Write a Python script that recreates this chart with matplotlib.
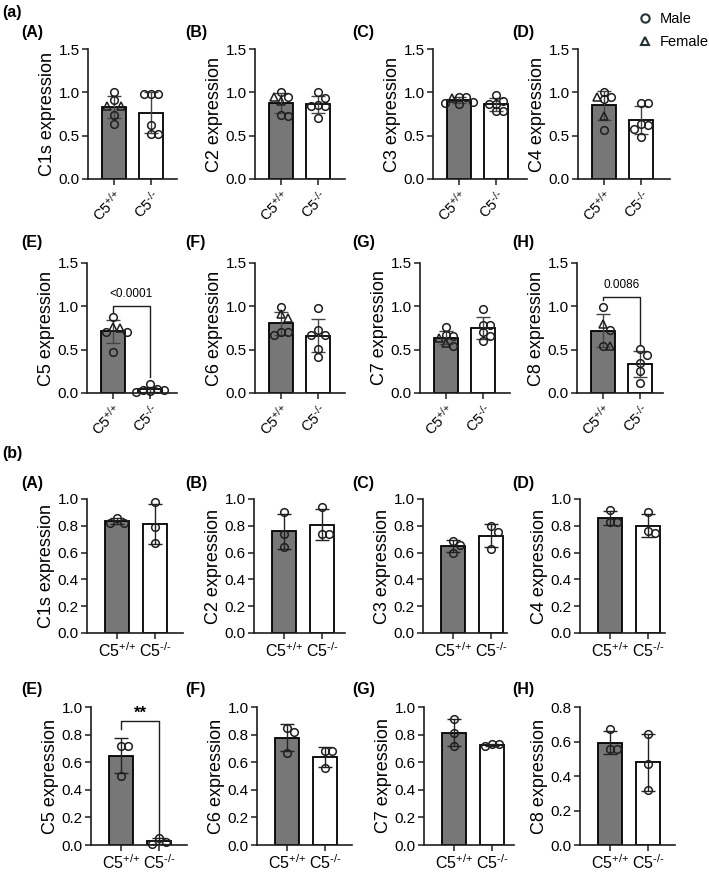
import numpy as np
import matplotlib.pyplot as plt
from matplotlib.lines import Line2D

plt.rcParams['font.family'] = ['Liberation Sans', 'DejaVu Sans']
plt.rcParams['mathtext.fontset'] = 'custom'
plt.rcParams['mathtext.rm'] = 'Liberation Sans'
plt.rcParams['mathtext.it'] = 'Liberation Sans:italic'
plt.rcParams['mathtext.bf'] = 'Liberation Sans:bold'

# Datos
genes = ['C1s', 'C2', 'C3', 'C4', 'C5', 'C6', 'C7', 'C8']
letras = ['(A)', '(B)', '(C)', '(D)', '(E)', '(F)', '(G)', '(H)']
grupos = [r'C5$^{\text{+/+}}$', r'C5$^{\text{-/-}}$']

# (a) machos (circulos) y hembras (triangulos)
a_wt_macho = [[1.0, 0.91, 0.74, 0.64], [0.95, 1.0, 0.73, 0.74], [0.95, 0.95, 0.88, 0.86, 0.89],
              [1.0, 0.95, 0.92, 0.57], [0.88, 0.70, 0.70, 0.47], [0.99, 0.70, 0.67, 0.70],
              [0.76, 0.66, 0.67, 0.54], [0.99, 0.73, 0.54]]
a_wt_hembra = [[0.84, 0.84], [0.945, 0.895], [0.93], [0.95, 0.73], [0.75, 0.76],
               [0.91, 0.86], [0.63, 0.58], [0.80, 0.54]]
a_ko_macho = [[0.98, 0.98, 0.98, 0.62, 0.52, 0.52], [1.0, 0.93, 0.84, 0.85, 0.84, 0.70],
              [0.97, 0.90, 0.87, 0.87, 0.78, 0.78], [0.88, 0.88, 0.64, 0.62, 0.58, 0.49],
              [0.04, 0.05, 0.10, 0.02, 0.01, 0.03], [0.98, 0.73, 0.67, 0.67, 0.51, 0.42],
              [0.97, 0.79, 0.78, 0.70, 0.66, 0.60], [0.51, 0.44, 0.35, 0.25, 0.12]]

# (b) n = 3
b_wt = [[0.86, 0.82, 0.82], [0.90, 0.74, 0.64], [0.69, 0.66, 0.60], [0.915, 0.83, 0.83],
        [0.72, 0.72, 0.50], [0.85, 0.82, 0.665], [0.915, 0.81, 0.72], [0.674, 0.554, 0.554]]
b_ko = [[0.975, 0.79, 0.675], [0.94, 0.74, 0.74], [0.795, 0.75, 0.63], [0.90, 0.745, 0.76],
        [0.01, 0.05, 0.02], [0.68, 0.68, 0.557], [0.714, 0.73, 0.73], [0.645, 0.47, 0.32]]

# (indice panel, altura, pierna izq, pierna der, texto)
a_sig = [(4, 1.0, 0.93, 0.19, '<0.0001'), (7, 1.11, 1.07, 0.55, '0.0086')]
b_sig = [(4, 0.90, 0.84, 0.06, '**')]

W, H = 709, 872
fig = plt.figure(figsize=(W / 100, H / 100), dpi=100)

# posiciones de ejes en pixeles: izquierda, derecha
fila_x = [[88, 177, 255, 345, 433, 527, 578, 670],
          [87, 177, 255, 345, 420, 510, 577, 663],
          [87, 183, 254, 345, 423, 507, 580, 665],
          [91, 187, 257, 352, 424, 514, 580, 675]]
fila_y = [(49, 179), (263, 393), (499, 633), (707, 845)]
letra_y = [33, 243, 483, 689]
letra_x = [21, 185, 352, 512]
GRIS = '#777777'
NEGRO = '#1e1e1e'


def crear_ejes(fila, col):
    x0, x1 = fila_x[fila][2 * col], fila_x[fila][2 * col + 1]
    yt, yb = fila_y[fila]
    return fig.add_axes([x0 / W, 1 - yb / H, (x1 - x0) / W, (yb - yt) / H]), x1 - x0


def swarm(ax, xc, vals, d=7.0):
    placed = []
    xs = np.zeros(len(vals))
    for i in np.argsort(-np.array(vals), kind='stable'):
        px, py = ax.transData.transform((xc, vals[i]))
        for k in [0, 1, -1, 2, -2, 3, -3]:
            cx = px + k * d
            if all((cx - qx) ** 2 + (py - qy) ** 2 >= (d * 0.95) ** 2 for qx, qy in placed):
                break
        placed.append((cx, py))
        xs[i] = ax.transData.inverted().transform((cx, py))[0]
    return xs


def panel(ax, wpx, vals_wt, vals_ko, mk_wt, mk_ko, ymax, yticks, paso, off, ecol, rot):
    ax.set_xlim(-off / paso, -off / paso + wpx / paso)
    ax.set_ylim(0, ymax)
    for j, (vals, mks) in enumerate([(vals_wt, mk_wt), (vals_ko, mk_ko)]):
        v = np.array(vals)
        m = v.mean()
        sd = v.std(ddof=1)
        ax.bar(j, m, width=0.65, color=GRIS if j == 0 else 'white', edgecolor='black',
               linewidth=1.3, zorder=1)
        ax.errorbar(j, m, yerr=sd, fmt='none', ecolor=ecol, elinewidth=1.0,
                    capsize=5, capthick=1.0, zorder=2)
        xs = swarm(ax, j, vals)
        for xv, yv, mk in zip(xs, vals, mks):
            ax.plot(xv, yv, marker=mk, ms=5.5, mfc='none',
                    mec=NEGRO, mew=1.1, ls='none', zorder=3, clip_on=False)
    ax.set_yticks(yticks)
    ax.set_yticklabels([f'{t:.1f}' for t in yticks], fontsize=11)
    ax.set_xticks([0, 1])
    if rot:
        ax.set_xticklabels(grupos, rotation=45, ha='right', rotation_mode='anchor', fontsize=10.5)
    else:
        ax.set_xticklabels(grupos, fontsize=11.5)
    for s in ['top', 'right']:
        ax.spines[s].set_visible(False)
    for s in ['left', 'bottom']:
        ax.spines[s].set_linewidth(1.2)
        ax.spines[s].set_color(NEGRO)
    ax.tick_params(direction='out', length=4, width=1.1, color=NEGRO, pad=2)
    ax.patch.set_alpha(0)


def corchete(ax, y, yl, yr, texto, fs, peso, dy):
    ax.plot([0, 0, 1, 1], [yl, y, y, yr], color=NEGRO, lw=1.0, zorder=4, clip_on=False)
    ax.text(0.5, y + dy, texto, ha='center', va='bottom', fontsize=fs, fontweight=peso)


# Seccion (a)
for i, g in enumerate(genes):
    fila, col = divmod(i, 4)
    ax, wpx = crear_ejes(fila, col)
    vw = a_wt_macho[i] + a_wt_hembra[i]
    mw = ['o'] * len(a_wt_macho[i]) + ['^'] * len(a_wt_hembra[i])
    vk = a_ko_macho[i]
    mk = ['o'] * len(vk)
    panel(ax, wpx, vw, vk, mw, mk, 1.5, [0.0, 0.5, 1.0, 1.5], 37, 26, '#444444', True)
    ax.set_ylabel(g + ' expression', fontsize=13, labelpad=2)
    for idx, y, yl, yr, t in a_sig:
        if idx == i:
            corchete(ax, y, yl, yr, t, 8.5, 'normal', 0.07)
    fig.text(letra_x[col] / W, 1 - letra_y[fila] / H, letras[i], fontsize=11.5,
             fontweight='bold', va='center', ha='left')

# Seccion (b)
for i, g in enumerate(genes):
    fila, col = divmod(i, 4)
    ax, wpx = crear_ejes(fila + 2, col)
    ymax = 0.8 if g == 'C8' else 1.0
    ticks = list(np.round(np.arange(0, ymax + 0.01, 0.2), 1))
    panel(ax, wpx, b_wt[i], b_ko[i], ['o'] * 3, ['o'] * 3, ymax, ticks, 38, 30,
          '#222222', False)
    ax.set_ylabel(g + ' expression', fontsize=13, labelpad=2)
    for idx, y, yl, yr, t in b_sig:
        if idx == i:
            corchete(ax, y, yl, yr, t, 12, 'bold', 0.0)
    fig.text(letra_x[col] / W, 1 - letra_y[fila + 2] / H, letras[i], fontsize=11.5,
             fontweight='bold', va='center', ha='left')

fig.text(2 / W, 1 - 12 / H, '(a)', fontsize=11.5, fontweight='bold', va='center')
fig.text(2 / W, 1 - 453 / H, '(b)', fontsize=11.5, fontweight='bold', va='center')

handles = [Line2D([], [], marker='o', ls='none', mfc='none', mec='#263238', mew=1.5, ms=6),
           Line2D([], [], marker='^', ls='none', mfc='none', mec='#263238', mew=1.5, ms=6)]
fig.legend(handles, ['Male', 'Female'], loc='upper left', bbox_to_anchor=(639 / W, 1 - 12 / H),
           frameon=False, fontsize=10.5, handlelength=0.8, handletextpad=0.6,
           labelspacing=0.6, borderpad=0, borderaxespad=0)

fig.savefig('out.png', dpi=100)
